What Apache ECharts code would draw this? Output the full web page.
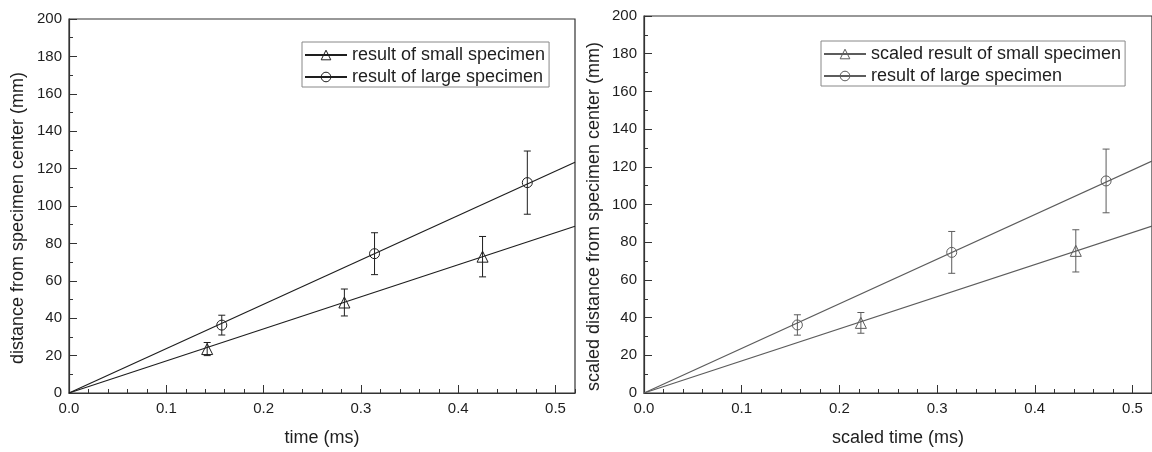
<!DOCTYPE html>
<html>
<head>
<meta charset="utf-8">
<script src="https://cdn.jsdelivr.net/npm/echarts@6/dist/echarts.min.js"></script>
<style>
html, body { margin: 0; padding: 0; background: #fff; }
#chart { width: 1152px; height: 452px; }
</style>
</head>
<body>
<div id="chart"></div>
<script>
// left panel - raw results
const smallTime = [0.142, 0.283, 0.425]
const smallDist = [23.5, 48.4, 72.9]
const smallErr = [3.5, 7.2, 10.8]
const largeTime = [0.157, 0.314, 0.471]
const largeDist = [36.3, 74.5, 112.5]
const largeErr = [5.3, 11.2, 16.9]
const fitTime = [0, 0.52]
const smallFit = [0, 89.2]
const largeFit = [0, 123.4]

// right panel - scaled results
const scaledSmallTime = [0.222, 0.442]
const scaledSmallDist = [37.2, 75.4]
const scaledSmallErr = [5.5, 11.2]
const scaledLargeTime = [0.157, 0.315, 0.473]
const scaledLargeDist = [36.1, 74.6, 112.5]
const scaledLargeErr = [5.4, 11.1, 16.9]
const scaledSmallFit = [0, 88.5]
const scaledLargeFit = [0, 123.0]

const FONT = 'Liberation Sans, Arial, sans-serif'
const DARK = '#1e1e1e'
const GREY = '#5c5c5c'

const pts = (xs, ys) => xs.map((x, i) => [x, ys[i]])
const bars = (xs, ys, es) => xs.map((x, i) => [x, ys[i] - es[i], ys[i] + es[i]])

function errorBar (color) {
  return function (params, api) {
    const x = api.value(0)
    const lo = api.coord([x, api.value(1)])
    const hi = api.coord([x, api.value(2)])
    const half = 3.5
    const style = { stroke: color, lineWidth: 1 }
    return {
      type: 'group',
      children: [
        { type: 'line', shape: { x1: hi[0], y1: hi[1], x2: lo[0], y2: lo[1] }, style },
        { type: 'line', shape: { x1: hi[0] - half, y1: hi[1], x2: hi[0] + half, y2: hi[1] }, style },
        { type: 'line', shape: { x1: lo[0] - half, y1: lo[1], x2: lo[0] + half, y2: lo[1] }, style }
      ]
    }
  }
}

function xAxes (grid, name) {
  return [
    {
      gridIndex: grid,
      type: 'value',
      min: 0,
      max: 0.52,
      interval: 0.1,
      name: name,
      nameLocation: 'middle',
      nameGap: 36,
      nameTextStyle: { fontSize: 18, color: DARK, fontFamily: FONT },
      axisLine: { lineStyle: { color: '#333', width: 1.2 } },
      axisTick: { inside: true, length: 8, lineStyle: { color: '#333' } },
      axisLabel: {
        fontSize: 15, color: DARK, fontFamily: FONT, margin: 8, showMaxLabel: false,
        formatter: v => v.toFixed(1)
      },
      splitLine: { show: false }
    },
    {
      gridIndex: grid,
      type: 'value',
      position: 'bottom',
      min: 0,
      max: 0.52,
      interval: 0.02,
      axisLine: { show: false },
      axisTick: { inside: true, length: 4, lineStyle: { color: '#333' } },
      axisLabel: { show: false },
      splitLine: { show: false }
    }
  ]
}

function yAxis (grid, name, gap) {
  return {
    gridIndex: grid,
    type: 'value',
    min: 0,
    max: 200,
    interval: 20,
    name: name,
    nameLocation: 'middle',
    nameGap: gap,
    // the title sits a little below the axis centre in the original
    nameTextStyle: { fontSize: 18, color: DARK, fontFamily: FONT, padding: [0, 24, 0, 0] },
    axisLine: { show: true, lineStyle: { color: '#333', width: 1.2 } },
    axisTick: { show: true, inside: true, length: 8, lineStyle: { color: '#333' } },
    minorTick: { show: true, splitNumber: 2, length: 4, lineStyle: { color: '#333' } },
    axisLabel: { fontSize: 15, color: DARK, fontFamily: FONT, margin: 7 },
    splitLine: { show: false }
  }
}

function markers (name, xi, yi, data, symbol, size, color) {
  return {
    name: name,
    type: 'line',
    xAxisIndex: xi,
    yAxisIndex: yi,
    data: data,
    symbol: symbol,
    symbolSize: size,
    showSymbol: true,
    silent: true,
    z: 5,
    lineStyle: { opacity: 0, color: color, width: 1 },
    itemStyle: { color: 'transparent', borderColor: color, borderWidth: 1 }
  }
}

function fitLine (xi, yi, data, color) {
  return {
    type: 'line',
    xAxisIndex: xi,
    yAxisIndex: yi,
    data: data,
    showSymbol: false,
    silent: true,
    lineStyle: { color: color, width: 1.2 }
  }
}

function errSeries (xi, yi, data, color) {
  return {
    type: 'custom',
    xAxisIndex: xi,
    yAxisIndex: yi,
    data: data,
    encode: { x: 0, y: [1, 2] },
    silent: true,
    z: 4,
    renderItem: errorBar(color)
  }
}

function legend (left, top, names) {
  return {
    left: left,
    top: top,
    orient: 'vertical',
    data: names,
    itemWidth: 42,
    itemHeight: 12,
    itemGap: 4,
    padding: [4, 4, 1, 2],
    borderColor: '#888',
    borderWidth: 1,
    selectedMode: false,
    textStyle: { fontSize: 18, color: DARK, fontFamily: FONT },
    lineStyle: { opacity: 1 },
    itemStyle: { borderWidth: 1 }
  }
}

const chart = echarts.init(document.getElementById('chart'))
chart.setOption({
  animation: false,
  backgroundColor: '#fff',
  textStyle: { fontFamily: FONT },
  grid: [
    { left: 69, top: 19, width: 506, height: 375, show: true, borderColor: '#333', borderWidth: 1.2, containLabel: false },
    { left: 644, top: 16, width: 511, height: 378, show: true, borderColor: '#333', borderWidth: 1.2, containLabel: false }
  ],
  legend: [
    legend(302, 42, ['result of small specimen', 'result of large specimen']),
    legend(821, 41, ['scaled result of small specimen', 'result of large specimen '])
  ],
  xAxis: [...xAxes(0, 'time (ms)'), ...xAxes(1, 'scaled time (ms)')],
  yAxis: [
    yAxis(0, 'distance from specimen center (mm)', 42),
    yAxis(1, 'scaled distance from specimen center (mm)', 41)
  ],
  series: [
    fitLine(0, 0, pts(fitTime, smallFit), DARK),
    fitLine(0, 0, pts(fitTime, largeFit), DARK),
    errSeries(0, 0, bars(smallTime, smallDist, smallErr), DARK),
    errSeries(0, 0, bars(largeTime, largeDist, largeErr), DARK),
    markers('result of small specimen', 0, 0, pts(smallTime, smallDist), 'triangle', 11, DARK),
    markers('result of large specimen', 0, 0, pts(largeTime, largeDist), 'circle', 10, DARK),

    fitLine(2, 1, pts(fitTime, scaledSmallFit), GREY),
    fitLine(2, 1, pts(fitTime, scaledLargeFit), GREY),
    errSeries(2, 1, bars(scaledSmallTime, scaledSmallDist, scaledSmallErr), GREY),
    errSeries(2, 1, bars(scaledLargeTime, scaledLargeDist, scaledLargeErr), GREY),
    markers('scaled result of small specimen', 2, 1, pts(scaledSmallTime, scaledSmallDist), 'triangle', 11, GREY),
    markers('result of large specimen ', 2, 1, pts(scaledLargeTime, scaledLargeDist), 'circle', 10, GREY)
  ]
})
</script>
</body>
</html>
